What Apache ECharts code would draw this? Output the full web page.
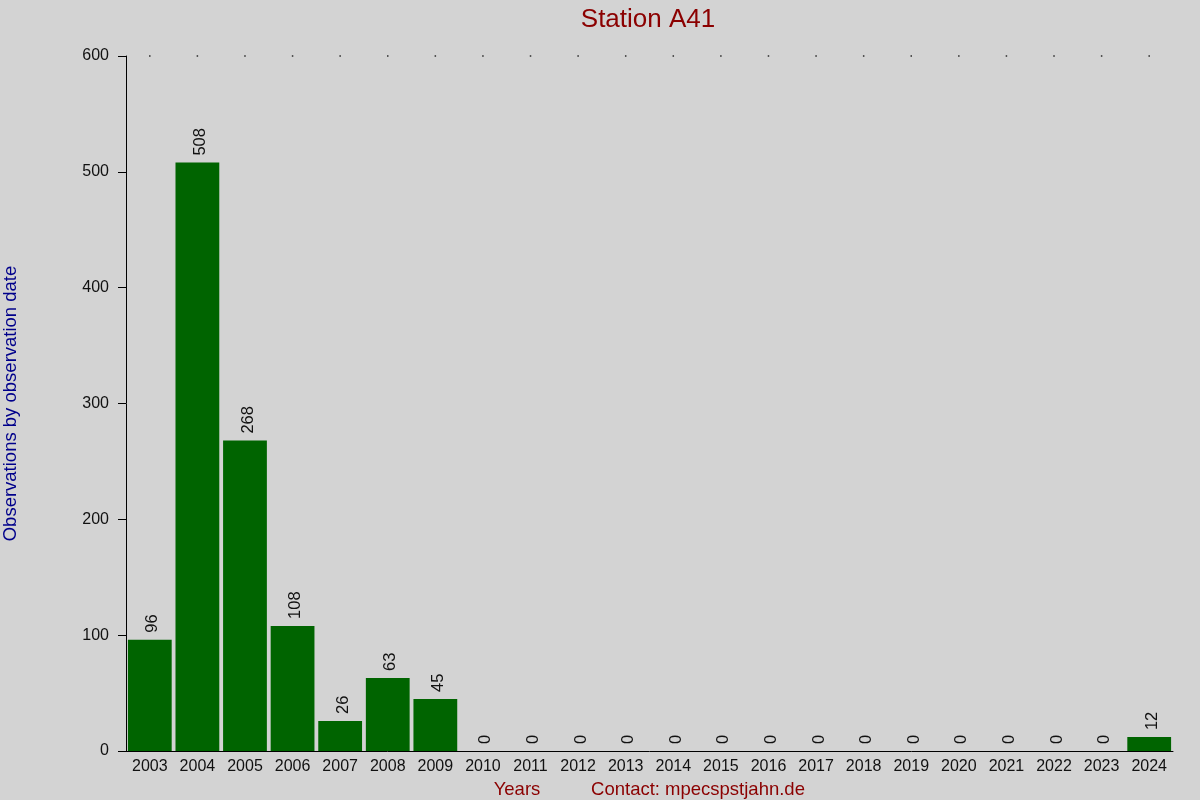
<!DOCTYPE html>
<html>
<head>
<meta charset="utf-8">
<script src="https://cdn.jsdelivr.net/npm/echarts@6/dist/echarts.min.js"></script>
<style>
  html, body { margin: 0; padding: 0; background: #d3d3d3; }
  #chart { width: 1200px; height: 800px; }
</style>
</head>
<body>
<div id="chart"></div>
<script>
const years = ['2003', '2004', '2005', '2006', '2007', '2008', '2009', '2010', '2011', '2012', '2013',
    '2014', '2015', '2016', '2017', '2018', '2019', '2020', '2021', '2022', '2023', '2024'];
const observations = [96, 508, 268, 108, 26, 63, 45, 0, 0, 0, 0, 0, 0, 0, 0, 0, 0, 0, 0, 0, 0, 12];
const yTicks = [0, 100, 200, 300, 400, 500, 600];
const yMax = yTicks[yTicks.length - 1];

const chart = echarts.init(document.getElementById('chart'));
const font = 'Liberation Sans, Arial, sans-serif';

chart.setOption({
    backgroundColor: '#d3d3d3',
    animation: false,
    title: [
        { text: 'Station A41', left: 643, top: 2, textAlign: 'center',
          textStyle: { color: '#8b0000', fontSize: 26, fontWeight: 'normal', fontFamily: font } },
        { text: 'Years', left: 512, top: 775, textAlign: 'center',
          textStyle: { color: '#8b0000', fontSize: 18.5, fontWeight: 'normal', fontFamily: font } },
        { text: 'Contact: mpecspstjahn.de', left: 693, top: 775, textAlign: 'center',
          textStyle: { color: '#8b0000', fontSize: 18.5, fontWeight: 'normal', fontFamily: font } }
    ],
    grid: { left: 126, right: 27, top: 56, bottom: 49, outerBoundsMode: 'none', containLabel: false },
    xAxis: {
        type: 'category',
        data: years,
        axisLine: { lineStyle: { color: '#000', width: 1 } },
        axisTick: { show: false },
        axisLabel: { color: '#111', fontSize: 16, margin: 8, fontFamily: font, interval: 0 }
    },
    yAxis: {
        type: 'value',
        min: 0,
        max: yMax,
        interval: 100,
        name: 'Observations by observation date',
        nameLocation: 'middle',
        nameGap: 106,
        nameTextStyle: { color: '#00008b', fontSize: 18.5, fontFamily: font },
        axisLine: { show: true, lineStyle: { color: '#000', width: 1 } },
        axisTick: { show: true, length: 8, lineStyle: { color: '#000' } },
        splitLine: { show: false },
        axisLabel: { color: '#111', fontSize: 16, margin: 17, fontFamily: font }
    },
    series: [
        {
            type: 'bar',
            data: observations,
            barCategoryGap: '8%',
            itemStyle: { color: '#006400' },
            label: {
                show: true,
                position: 'top',
                rotate: 90,
                align: 'left',
                verticalAlign: 'middle',
                distance: 7,
                offset: [0, 3],
                color: '#111',
                fontSize: 16.5,
                fontFamily: font
            }
        },
        {
            type: 'scatter',
            data: years.map(() => yMax),
            symbol: 'rect',
            symbolSize: 1.5,
            itemStyle: { color: '#000' },
            silent: true
        }
    ]
});
</script>
</body>
</html>
